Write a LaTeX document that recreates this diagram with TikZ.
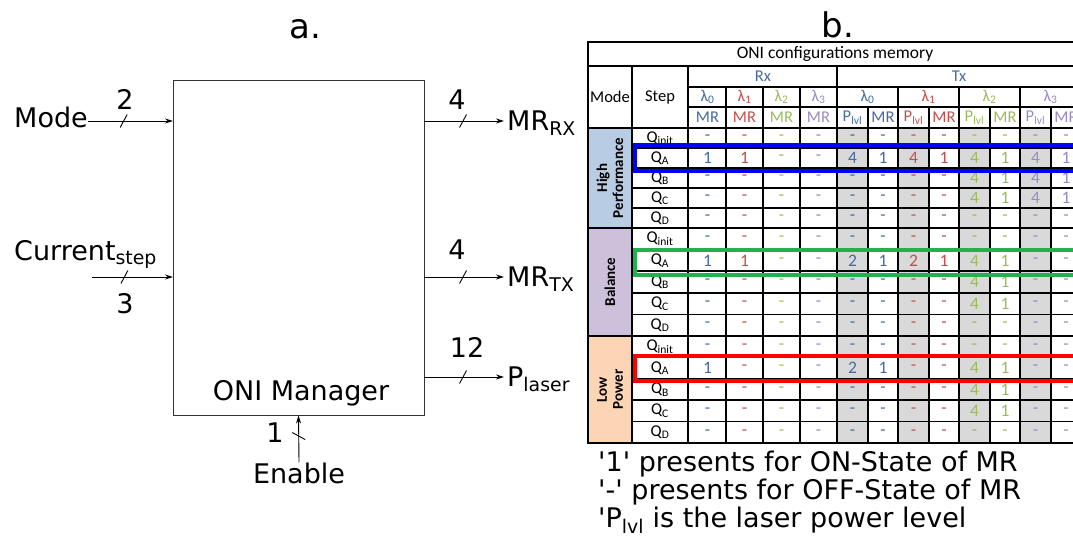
\documentclass[tikz,border=0pt]{standalone}
\usepackage{fontspec}
\setmainfont{DejaVu Sans}
\newfontfamily\tabfont{Carlito}
\usetikzlibrary{arrows.meta, positioning, calc}

\definecolor{lam0}{HTML}{466A9F}
\definecolor{lam1}{HTML}{C0504D}
\definecolor{lam2}{HTML}{9BBB59}
\definecolor{lam3}{HTML}{9A8AC4}
\definecolor{hpfill}{HTML}{B8CCE4}
\definecolor{balfill}{HTML}{CCC0DA}
\definecolor{lowfill}{HTML}{FCD5B4}
\definecolor{plvlfill}{HTML}{D9D9D9}
\definecolor{boxblue}{HTML}{0000FF}
\definecolor{boxgreen}{HTML}{22B14C}
\definecolor{boxred}{HTML}{FF0000}

\tikzset{
  bigtext/.style={font=\fontsize{27}{32}\selectfont, inner sep=0pt},
  legtext/.style={font=\fontsize{27}{30}\selectfont, inner sep=0pt},
  panel/.style={font=\fontsize{34}{40}\selectfont, inner sep=0pt},
  sig/.style={-{Stealth[length=8pt,width=5pt]}, line width=0.9pt},
  buswire/.pic={\draw[line width=0.9pt] (-3.5,6.5) -- (3.5,-6.5);}
}
\tikzset{
  gridline/.style={line width=1.5pt, line cap=rect},
  titletext/.style={font=\tabfont\fontsize{17.5}{20}\selectfont, inner sep=0pt},
  hdrtext/.style={font=\tabfont\fontsize{16.5}{18}\selectfont, inner sep=0pt},
  steptext/.style={font=\tabfont\fontsize{16.5}{17}\selectfont, inner sep=0pt},
  valtext/.style={font=\tabfont\fontsize{17.5}{17}\selectfont, inner sep=0pt},
  modetext/.style={font=\tabfont\bfseries\fontsize{15}{16}\selectfont, inner sep=0pt, align=center, rotate=90},
  hlbox/.style={line width=3.5pt}
}

\begin{document}
\begin{tikzpicture}[x=1pt, y=-1pt]
  \useasboundingbox (0,0) rectangle (1073,538);

  % a. ONI manager block
  \node[panel, anchor=base] (pa) at (305,38) {a.};
  \node[draw=black!80, line width=0.9pt, minimum width=251pt, minimum height=335pt, inner sep=0pt] (mgr) at (298.5,247.5) {};
  \node[bigtext, anchor=base] (mgrname) at (301,400) {ONI Manager};

  \node[bigtext, anchor=base west] (mode) at (14,127) {Mode};
  \node[bigtext, anchor=base west] (cur) at (14,260) {Current\textsubscript{step}};
  \coordinate (inMode) at (173,121);
  \coordinate (inCur) at (173,277);
  \coordinate (curStart) at (92,277);
  \draw[sig] (mode.east |- inMode) -- coordinate[pos=.42] (sMode) (inMode);
  \draw[sig] (curStart) -- coordinate[pos=.4] (sCur) (inCur);
  \pic at (sMode) {buswire};
  \pic at (sCur) {buswire};
  \node[bigtext] (nMode) at (125,99) {2};
  \node[bigtext] (nCur) at (125,304) {3};

  \node[bigtext, anchor=base west] (mrrx) at (507,130) {MR\textsubscript{RX}};
  \node[bigtext, anchor=base west] (mrtx) at (507,286) {MR\textsubscript{TX}};
  \node[bigtext, anchor=base west] (plaser) at (507,386) {P\textsubscript{laser}};
  \coordinate (outRx) at (424,121);
  \coordinate (outTx) at (424,277);
  \coordinate (outP) at (424,377);
  \draw[sig, shorten >=3pt] (outRx) -- coordinate[pos=.47] (sRx) (mrrx.west |- outRx);
  \draw[sig, shorten >=3pt] (outTx) -- coordinate[pos=.47] (sTx) (mrtx.west |- outTx);
  \draw[sig, shorten >=3pt] (outP) -- coordinate[pos=.47] (sP) (plaser.west |- outP);
  \pic at (sRx) {buswire};
  \pic at (sTx) {buswire};
  \pic at (sP) {buswire};
  \node[bigtext] (nRx) at (457,100) {4};
  \node[bigtext] (nTx) at (457,250) {4};
  \node[bigtext] (nP) at (467,347) {12};

  \node[bigtext, anchor=base] (enable) at (299,483) {Enable};
  \draw[sig] (enable.north) -- coordinate[pos=.56] (sEn) (mgr.south);
  \pic[rotate=-90] at (sEn) {buswire};
  \node[bigtext] (nEn) at (275,433) {1};

  % b. configurations memory
  \node[panel, anchor=base] (pb) at (838,37) {b.};
  \begin{scope}
    \clip (584,30) rectangle (1073,450);
    \fill[hpfill] (588,128) rectangle (632,228);
    \fill[balfill] (588,228) rectangle (632,336);
    \fill[lowfill] (588,336) rectangle (632,443);
    \foreach \x in {837,898,959,1020}
      \fill[plvlfill] (\x,128) rectangle (\x+31,443);

    \draw[gridline] (588,42) -- (1090,42) (588,66) -- (1090,66)
      (688,87) -- (1090,87) (688,107) -- (1090,107) (588,128) -- (1090,128)
      (588,228) -- (1090,228) (588,336) -- (1090,336) (588,443) -- (1090,443);
    \foreach \yb/\hh in {128/20, 228/21.6, 336/21.4}
      \foreach \i in {1,...,4}
        \draw[gridline] (632,\yb+\i*\hh) -- (1090,\yb+\i*\hh);
    \draw[gridline] (588,42) -- (588,443);
    \foreach \x in {632,688,837} \draw[gridline] (\x,66) -- (\x,443);
    \foreach \x in {726,763,800,898,959,1020,1081} \draw[gridline] (\x,87) -- (\x,443);
    \foreach \x in {868,929,990,1051} \draw[gridline] (\x,107) -- (\x,443);

    % headers
    \node[titletext] (title) at (835,54) {ONI configurations memory};
    \node[hdrtext] (modeh) at (610,97) {Mode};
    \node[hdrtext] (steph) at (660,97) {Step};
    \node[hdrtext, text=lam0] (rxh) at (763,76.5) {Rx};
    \node[hdrtext, text=lam0] (txh) at (959,76.5) {Tx};
    \foreach \x [count=\k from 0] in {707.5,744.5,781.5,818.5} {
      \node[hdrtext, text=lam\k] (rxl\k) at (\x,97) {λ\textsubscript{\k}};
      \node[hdrtext, text=lam\k] (rxm\k) at (\x,117.5) {MR};
    }
    \foreach \x [count=\k from 0] in {837,898,959,1020} {
      \node[hdrtext, text=lam\k] (txl\k) at (\x+30.5,97) {λ\textsubscript{\k}};
      \node[hdrtext, text=lam\k] (txp\k) at (\x+15.5,117.5) {P\textsubscript{lvl}};
      \node[hdrtext, text=lam\k] (txm\k) at (\x+46,117.5) {MR};
    }

    % modes and steps
    \node[modetext] (hpm) at (610,178) {High\\Performance};
    \node[modetext] (balm) at (610,282) {Balance};
    \node[modetext] (lowm) at (610,389.5) {Low\\Power};
    \foreach \yb/\hh/\b in {128/20/0, 228/21.6/1, 336/21.4/2}
      \foreach \s [count=\i from 0] in {init,A,B,C,D}
        \node[steptext] (st\b\s) at (660,\yb+\i*\hh+\hh/2) {Q\textsubscript{\s}};

    % values
    \foreach \vals [count=\r from 0] in {
      {-,-,-,-,-,-,-,-,-,-,-,-}, {1,1,-,-,4,1,4,1,4,1,4,1}, {-,-,-,-,-,-,-,-,4,1,4,1},
      {-,-,-,-,-,-,-,-,4,1,4,1}, {-,-,-,-,-,-,-,-,-,-,-,-},
      {-,-,-,-,-,-,-,-,-,-,-,-}, {1,1,-,-,2,1,2,1,4,1,-,-}, {-,-,-,-,-,-,-,-,4,1,-,-},
      {-,-,-,-,-,-,-,-,4,1,-,-}, {-,-,-,-,-,-,-,-,-,-,-,-},
      {-,-,-,-,-,-,-,-,-,-,-,-}, {1,-,-,-,2,1,-,-,4,1,-,-}, {-,-,-,-,-,-,-,-,4,1,-,-},
      {-,-,-,-,-,-,-,-,4,1,-,-}, {-,-,-,-,-,-,-,-,-,-,-,-}} {
      \pgfmathsetmacro\yc{\r<5 ? 138+20*\r : (\r<10 ? 238.8+21.6*(\r-5) : 346.7+21.4*(\r-10))}
      \foreach \v [count=\c from 0] in \vals {
        \pgfmathsetmacro\xc{{707.5,744.5,781.5,818.5,852.5,883,913.5,944,974.5,1005,1035.5,1066}[\c]}
        \pgfmathtruncatemacro\k{\c<4 ? \c : int((\c-4)/2)}
        \node[valtext, text=lam\k] (v\r-\c) at (\xc,\yc) {\v};
      }
    }

    % highlighted rows
    \draw[hlbox, boxblue] (635,145) rectangle (1090,171);
    \draw[hlbox, boxgreen] (635,250) rectangle (1090,275);
    \draw[hlbox, boxred] (635,356) rectangle (1090,381);
  \end{scope}

  \node[legtext, anchor=base west] (legOn) at (598,471) {\textquotesingle 1\textquotesingle{} presents for ON-State of MR};
  \node[legtext, anchor=base west] (legOff) at (598,499.5) {\textquotesingle -\textquotesingle{} presents for OFF-State of MR};
  \node[legtext, anchor=base west] (legP) at (598,527.5) {\textquotesingle P\textsubscript{lvl} is the laser power level};
\end{tikzpicture}
\end{document}
